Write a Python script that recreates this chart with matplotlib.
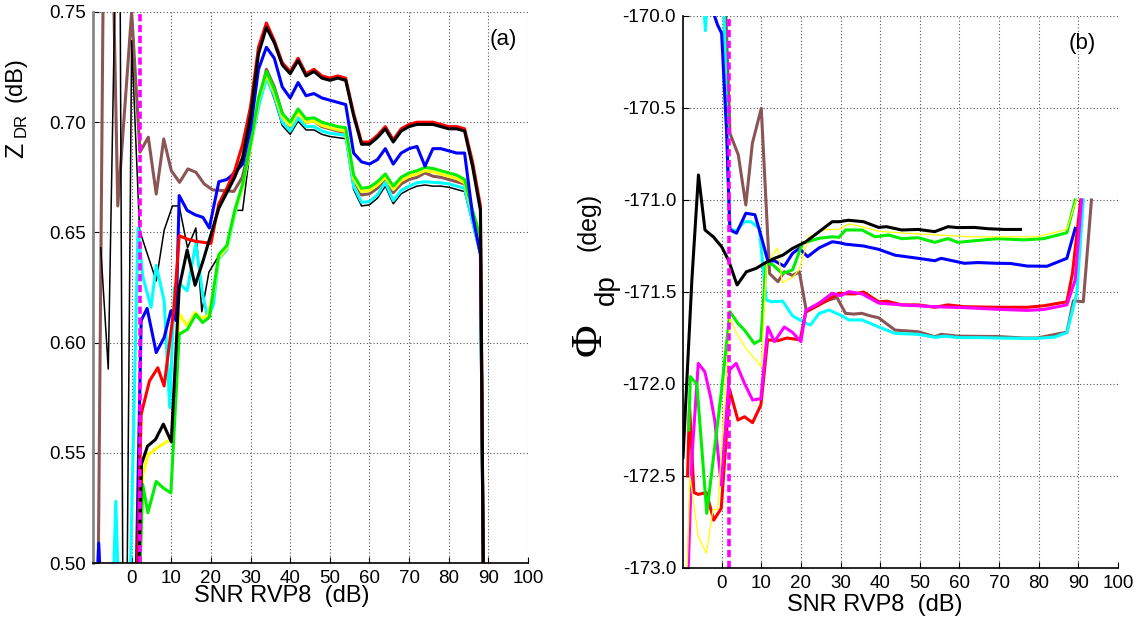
import matplotlib
matplotlib.use("Agg")
import matplotlib.pyplot as plt
from matplotlib.ticker import FormatStrFormatter

plt.rcParams['font.family'] = ['Liberation Sans', 'DejaVu Sans']
plt.rcParams['axes.unicode_minus'] = False

# ---------------- Panel (a): Z_DR vs SNR ----------------
a_black_x = [1.6, 2.5, 4, 6, 8, 10, 12, 14, 16, 18, 20, 22, 24, 26, 28, 30, 32, 34, 36, 38, 40, 42, 44, 46, 48, 50,
             52, 54, 56, 58, 60, 62, 64, 66, 68, 70, 72, 74, 76, 78, 80, 82, 84, 86, 88, 88.8]
a_black_y = [0.48, 0.545, 0.553, 0.556, 0.563, 0.555, 0.625, 0.642, 0.626, 0.637, 0.649, 0.661, 0.668, 0.675, 0.684,
             0.703, 0.731, 0.743, 0.736, 0.726, 0.722, 0.728, 0.721, 0.723, 0.720, 0.719, 0.720, 0.719, 0.703, 0.690,
             0.690, 0.693, 0.697, 0.691, 0.696, 0.698, 0.699, 0.699, 0.699, 0.698, 0.697, 0.697, 0.696, 0.680, 0.660, 0.48]

a_red_x = [1.2, 2.4, 4.5, 6.6, 8.2, 10.7, 12, 14, 16, 18, 20, 22, 24, 26, 28, 30, 32, 34, 36, 38, 40, 42, 44, 46, 48, 50,
           52, 54, 56, 58, 60, 62, 64, 66, 68, 70, 72, 74, 76, 78, 80, 82, 84, 86, 88, 88.8]
a_red_y = [0.48, 0.5675, 0.5826, 0.5886, 0.5803, 0.616, 0.6485, 0.647, 0.646, 0.6455, 0.645, 0.663, 0.670, 0.678, 0.690,
           0.707, 0.734, 0.745, 0.737, 0.727, 0.723, 0.729, 0.722, 0.724, 0.721, 0.720, 0.721, 0.720, 0.704, 0.691,
           0.691, 0.694, 0.698, 0.692, 0.697, 0.699, 0.700, 0.700, 0.700, 0.699, 0.698, 0.698, 0.697, 0.682, 0.662, 0.48]

a_blue_x = [-9, -8.3, -7.6, 1.0, 2.4, 3.9, 6.2, 8.2, 9.9, 11.2, 12, 14, 16, 18, 19.6, 22, 24, 26, 28, 30, 32, 34, 36, 38,
            40, 42, 44, 46, 48, 50, 52, 54, 56, 58, 60, 62, 64, 66, 68, 70, 72, 74, 76, 78, 80, 82, 84, 86, 88, 88.8]
a_blue_y = [0.48, 0.509, 0.48, 0.48, 0.610, 0.6155, 0.5955, 0.6023, 0.6144, 0.610, 0.6667, 0.660, 0.658, 0.6568, 0.652,
            0.673, 0.674, 0.677, 0.681, 0.697, 0.724, 0.734, 0.729, 0.716, 0.711, 0.718, 0.712, 0.713, 0.711, 0.710,
            0.709, 0.708, 0.686, 0.682, 0.681, 0.683, 0.688, 0.681, 0.686, 0.688, 0.689, 0.680, 0.688, 0.688, 0.687,
            0.686, 0.686, 0.658, 0.640, 0.48]

a_green_x = [1.8, 2.8, 4.1, 6.2, 8, 9.9, 12, 14.1, 16.2, 17.9, 19.6, 22, 24, 26, 28, 30, 32, 34, 36, 38, 40, 42, 44, 46,
             48, 50, 52, 54, 56, 58, 60, 62, 64, 66, 68, 70, 72, 74, 76, 78, 80, 82, 84, 86, 88, 88.8]
a_green_y = [0.48, 0.5356, 0.5228, 0.537, 0.534, 0.5318, 0.6038, 0.606, 0.6128, 0.6091, 0.6115, 0.640, 0.644, 0.660,
             0.672, 0.690, 0.711, 0.723, 0.715, 0.704, 0.700, 0.706, 0.7015, 0.702, 0.700, 0.699, 0.698, 0.6975, 0.676,
             0.670, 0.6705, 0.673, 0.6765, 0.671, 0.675, 0.677, 0.678, 0.6795, 0.679, 0.678, 0.677, 0.676, 0.674,
             0.660, 0.648, 0.48]

a_yellow_x = [1.7, 2.8, 4.1, 6.2, 9.1, 10.3, 12, 14, 16, 17.5, 19.2, 20.6, 22, 24, 26, 28, 30, 32, 34, 36, 38, 40, 42,
              44, 46, 48, 50, 52, 54, 56, 58, 60, 62, 64, 66, 68, 70, 72, 74, 76, 78, 80, 82, 84, 86, 88, 88.8]
a_yellow_y = [0.48, 0.540, 0.549, 0.552, 0.5553, 0.557, 0.613, 0.6076, 0.6136, 0.611, 0.612, 0.622, 0.6385, 0.643,
              0.659, 0.671, 0.689, 0.710, 0.7215, 0.7135, 0.7025, 0.6985, 0.7045, 0.700, 0.7005, 0.6985, 0.6975, 0.6965,
              0.696, 0.6745, 0.6685, 0.669, 0.6715, 0.675, 0.6695, 0.6735, 0.6755, 0.6765, 0.678, 0.6775, 0.6765,
              0.6755, 0.6745, 0.6725, 0.659, 0.647, 0.48]

a_brown_x = [-8.5, -7.0, -5.0, -3.5, 0, 2.1, 4.2, 6.2, 8.1, 10, 12.1, 14.2, 16.2, 18.3, 20.4, 22.9, 25.8, 27.9, 30, 32, 34,
             36, 38, 40, 42, 44, 46, 48, 50, 52, 54, 56, 58, 60, 62, 64, 66, 68, 70, 72, 74, 76, 78, 80, 82, 84, 86,
             88, 88.8]
a_brown_y = [0.48, 0.80, 0.80, 0.662, 0.750, 0.6864, 0.6932, 0.6674, 0.6924, 0.678, 0.6727, 0.6788, 0.6773, 0.672,
             0.6693, 0.669, 0.6686, 0.675, 0.690, 0.7075, 0.724, 0.716, 0.704, 0.698, 0.705, 0.700, 0.7005, 0.698,
             0.697, 0.696, 0.6955, 0.674, 0.667, 0.6675, 0.670, 0.674, 0.668, 0.672, 0.674, 0.675, 0.677, 0.6755,
             0.675, 0.674, 0.673, 0.672, 0.658, 0.645, 0.48]

a_cyan_x = [-4.8, -4.0, -3.2, -0.5, 1.6, 2.8, 4.9, 6.2, 8.2, 9.6, 10.8, 12.5, 14, 16.2, 17.9, 19.2, 20.6, 22, 24, 26, 28,
            30, 32, 34, 36, 38, 40, 42, 44, 46, 48, 50, 52, 54, 56, 58, 60, 62, 64, 66, 68, 70, 72, 74, 76, 78, 80, 82,
            84, 86, 88, 88.8]
a_cyan_y = [0.48, 0.528, 0.48, 0.48, 0.652, 0.630, 0.616, 0.635, 0.619, 0.5705, 0.625, 0.626, 0.6235, 0.645, 0.622,
            0.611, 0.617, 0.638, 0.642, 0.658, 0.671, 0.689, 0.707, 0.7197, 0.712, 0.700, 0.696, 0.702, 0.698, 0.698,
            0.696, 0.695, 0.6945, 0.694, 0.671, 0.6636, 0.664, 0.667, 0.6727, 0.6644, 0.669, 0.671, 0.6725, 0.673,
            0.6727, 0.6725, 0.672, 0.671, 0.670, 0.655, 0.640, 0.48]

a_thin_x = [-7.8, -5.9, -3.8, -3.0, -2.2, -1.2, 0, 2, 4, 6.2, 8.2, 10.3, 12, 14.1, 16.2, 17.7, 19.5, 22, 24, 26, 28, 30,
            32, 34, 36, 38, 40, 42, 44, 46, 48, 50, 52, 54, 56, 58, 60, 62, 64, 66, 68, 70, 72, 74, 76, 78, 80, 82, 84,
            86, 88, 88.8]
a_thin_y = [0.643, 0.588, 0.80, 0.80, 0.48, 0.48, 0.737, 0.651, 0.640, 0.628, 0.651, 0.662, 0.662, 0.643, 0.652, 0.614,
            0.632, 0.6394, 0.643, 0.660, 0.660, 0.689, 0.709, 0.7205, 0.7105, 0.6985, 0.6945, 0.7005, 0.6965, 0.6965,
            0.6945, 0.6935, 0.693, 0.6925, 0.6695, 0.662, 0.6625, 0.6655, 0.671, 0.663, 0.6675, 0.6695, 0.671, 0.6715,
            0.671, 0.671, 0.6705, 0.6695, 0.6685, 0.654, 0.639, 0.48]

a_marker_snr = 2.1

# ---------------- Panel (b): PHI_dp vs SNR ----------------
b_black_x = [-9.75, -7.5, -5.85, -4.2, -2.1, 0, 1.7, 3.9, 6.25, 8.75, 10.8, 13.3, 15.4, 17.9, 21.25, 24.6, 27.9, 29.6,
             32, 35.8, 39.6, 41.6, 45.4, 49.6, 53.75, 57.1, 59.6, 63.75, 67.1, 71.25, 75.4]
b_black_y = [-172.4, -171.43, -170.864, -171.163, -171.2, -171.254, -171.326, -171.462, -171.39, -171.371, -171.344,
             -171.317, -171.3, -171.263, -171.227, -171.172, -171.118, -171.118, -171.11, -171.118, -171.149, -171.145,
             -171.163, -171.16, -171.172, -171.145, -171.15, -171.149, -171.156, -171.16, -171.16]

b_green_x = [-8.3, -7.9, -6.25, -3.75, 0, 2.1, 4.1, 5.75, 8.25, 9.9, 11.2, 12.8, 15.3, 17.9, 20.4, 24.6, 27.9, 29.6,
             31.25, 35.4, 38.75, 42.1, 45.4, 49.6, 53.75, 57.1, 59.6, 64.6, 69.6, 76.25, 81.25, 87.1, 89.2]
b_green_y = [-172.25, -171.96, -172.0, -172.703, -172.03, -171.607, -171.67, -171.707, -171.78, -171.76, -171.344,
             -171.35, -171.4, -171.38, -171.235, -171.208, -171.2, -171.203, -171.163, -171.163, -171.2, -171.19,
             -171.21, -171.205, -171.23, -171.21, -171.23, -171.22, -171.21, -171.217, -171.21, -171.178, -171.0]

b_yellow_x = [-8.75, -8, -5.9, -3.85, -2.2, -1, 2.1, 3.75, 6.25, 10, 11.3, 14.1, 15.3, 17.9, 19.5, 22, 26.25, 29.6, 32.1,
              35.4, 39.6, 46.25, 54.6, 62.9, 71.25, 79.6, 87.1, 89.4]
b_yellow_y = [-173.05, -172.5, -172.83, -172.92, -172.685, -172.68, -171.643, -171.724, -171.81, -171.906, -171.35,
              -171.26, -171.45, -171.42, -171.38, -171.2, -171.16, -171.16, -171.13, -171.145, -171.17, -171.18,
              -171.19, -171.2, -171.2, -171.2, -171.16, -171.0]

b_blue_x = [-2.6, -1, 0, 1.25, 1.7, 2.1, 3.75, 6.1, 8.4, 10, 11.7, 13.3, 15.8, 17.9, 19.6, 21.7, 24.6, 27.9, 29.6, 31.25,
            35.8, 39.6, 43.75, 49.6, 53.75, 55.4, 61.25, 64.6, 69.6, 72.9, 77.1, 82.1, 87.1, 89.2]
b_blue_y = [-169.95, -170.05, -170.094, -170.63, -170.928, -171.163, -171.18, -171.072, -171.08, -171.2, -171.335,
            -171.33, -171.36, -171.29, -171.263, -171.308, -171.26, -171.227, -171.232, -171.24, -171.25, -171.268,
            -171.3, -171.317, -171.33, -171.317, -171.344, -171.34, -171.344, -171.345, -171.359, -171.36, -171.317,
            -171.154]

b_cyan_x = [-4.6, -4.1, -3.6, 0.5, 2, 3.65, 5.75, 7.4, 9.5, 11.25, 12.5, 15.4, 17.9, 21.25, 22.4, 24.6, 27.1, 30.4, 32.1,
            35.4, 39.6, 43.75, 49.6, 53.75, 56.25, 60, 65, 69.6, 76.25, 79.6, 84, 87.1, 89.6, 91.25]
b_cyan_y = [-169.9, -170.08, -169.9, -169.9, -171.154, -171.17, -171.118, -171.118, -171.154, -171.543, -171.553,
            -171.55, -171.63, -171.67, -171.68, -171.616, -171.598, -171.63, -171.652, -171.652, -171.69, -171.725,
            -171.73, -171.746, -171.74, -171.748, -171.748, -171.75, -171.752, -171.752, -171.745, -171.721, -171.507,
            -171.0]

b_brown_x = [0.9, 2.1, 4.2, 6.1, 7.75, 10, 12.1, 14.2, 15.8, 17.9, 19.6, 21.4, 23.7, 25.3, 27.1, 29.1, 31.25, 33.3, 35.4,
             37.5, 39.6, 43.75, 49.6, 53.75, 55.4, 59.6, 69.6, 76.25, 79.6, 87.1, 88.75, 91.25, 93.3]
b_brown_y = [-169.9, -170.638, -170.755, -171.027, -170.692, -170.502, -171.4, -171.444, -171.39, -171.41, -171.39,
             -171.607, -171.58, -171.56, -171.543, -171.53, -171.616, -171.62, -171.616, -171.63, -171.64, -171.707,
             -171.716, -171.743, -171.73, -171.74, -171.742, -171.75, -171.75, -171.718, -171.547, -171.553, -171.0]

b_red_x = [-8.6, -8.1, -7.0, -5.9, -3.85, -2, -0.1, 2, 4.1, 5.75, 7.8, 9.9, 11.6, 14.1, 16.5, 19.8, 21.25, 24.6, 29.6,
           31.7, 33.75, 35.8, 39.6, 41.7, 45.4, 49.6, 53.75, 57.1, 61.25, 69.6, 77.1, 81.25, 87.1, 88.5, 90.6]
b_red_y = [-172.5, -172.12, -172.59, -172.6, -172.59, -172.74, -172.676, -172.03, -172.196, -172.178, -172.21,
           -172.114, -171.76, -171.765, -171.75, -171.76, -171.607, -171.57, -171.507, -171.51, -171.51, -171.5,
           -171.553, -171.55, -171.57, -171.57, -171.583, -171.57, -171.58, -171.583, -171.583, -171.575, -171.553,
           -171.4, -171.0]

b_magenta_x = [-8.5, -7.5, -5.9, -4.25, -2.8, -1.75, -0.1, 2, 3.65, 5.75, 7.8, 9.9, 11.65, 13.3, 15.8, 17.9, 20, 21.25,
               24.6, 27.9, 30, 32.1, 35.4, 39.6, 45.4, 53.75, 61.25, 69.6, 77.1, 81.25, 87.1, 89.2, 90.8]
b_magenta_y = [-173.05, -172.4, -171.888, -171.933, -172.07, -172.196, -172.55, -171.924, -171.888, -171.996, -172.087,
               -172.08, -171.69, -171.77, -171.69, -171.72, -171.77, -171.6, -171.56, -171.507, -171.52, -171.498,
               -171.51, -171.56, -171.57, -171.58, -171.585, -171.594, -171.6, -171.595, -171.57, -171.435, -171.0]

b_marker_snr = 1.9

x_ticks = [0, 10, 20, 30, 40, 50, 60, 70, 80, 90, 100]
a_yticks = [0.50, 0.55, 0.60, 0.65, 0.70, 0.75]
b_yticks = [-173.0, -172.5, -172.0, -171.5, -171.0, -170.5, -170.0]

# colours
RED = '#ff0000'
BLK = '#000000'
BLU = '#0000ff'
GRN = '#00ee00'
YEL = '#ffff00'
CYN = '#00ffff'
BRN = '#8c5555'
MAG = '#ff00ff'

W, H = 1139, 634
fig = plt.figure(figsize=(W / 100, H / 100), dpi=100)
axA = fig.add_axes([93 / W, 1 - 563 / H, 435 / W, 551 / H])
axB = fig.add_axes([683 / W, 1 - 568 / H, 435 / W, 552 / H])

lw = 2.2
# panel a
axA.plot(a_brown_x, a_brown_y, color=BRN, lw=lw)
axA.plot(a_thin_x, a_thin_y, color=BLK, lw=1.1)
axA.plot(a_cyan_x, a_cyan_y, color=CYN, lw=lw)
axA.plot(a_yellow_x, a_yellow_y, color=YEL, lw=lw)
axA.plot(a_green_x, a_green_y, color=GRN, lw=lw)
axA.plot(a_blue_x, a_blue_y, color=BLU, lw=lw)
axA.plot(a_red_x, a_red_y, color=RED, lw=lw)
axA.plot(a_black_x, a_black_y, color=BLK, lw=lw)
axA.axvline(a_marker_snr, color=MAG, lw=2.6, ls=(0, (2.0, 1.0)))

# panel b
axB.plot(b_brown_x, b_brown_y, color=BRN, lw=lw)
axB.plot(b_cyan_x, b_cyan_y, color=CYN, lw=lw)
axB.plot(b_red_x, b_red_y, color=RED, lw=lw)
axB.plot(b_magenta_x, b_magenta_y, color=MAG, lw=lw)
axB.plot(b_blue_x, b_blue_y, color=BLU, lw=lw)
axB.plot(b_green_x, b_green_y, color=GRN, lw=lw)
axB.plot(b_yellow_x, b_yellow_y, color=YEL, lw=0.9)
axB.plot(b_black_x, b_black_y, color=BLK, lw=lw)
axB.axvline(b_marker_snr, color=MAG, lw=2.6, ls=(0, (2.0, 1.0)))

for ax, yt, fmt, ylim in [(axA, a_yticks, '%.2f', (0.50, 0.75)), (axB, b_yticks, '%.1f', (-173.0, -170.0))]:
    ax.set_xlim(-9.75, 100)
    ax.set_ylim(*ylim)
    ax.set_xticks(x_ticks)
    ax.set_yticks(yt)
    ax.yaxis.set_major_formatter(FormatStrFormatter(fmt))
    ax.grid(True, color='#555555', ls=(0, (1, 2)), lw=0.8)
    ax.set_axisbelow(True)
    ax.tick_params(direction='in', length=4, labelsize=13.5, pad=5)
    ax.spines['top'].set_visible(False)
    ax.spines['right'].set_visible(False)
    ax.spines['bottom'].set_linewidth(1.2)
    ax.spines['left'].set_linewidth(1.2)

axA.spines['left'].set_color('#888888')
axA.spines['left'].set_linewidth(2.0)

axA.text(0.943, 0.95, '(a)', transform=axA.transAxes, fontsize=16, ha='center', va='center')
axB.text(0.917, 0.95, '(b)', transform=axB.transAxes, fontsize=16, ha='center', va='center')

# x labels
fig.text(282 / W, 1 - 596 / H, 'SNR RVP8  (dB)', fontsize=17, ha='center', va='center')
fig.text(875 / W, 1 - 605 / H, 'SNR RVP8  (dB)', fontsize=17, ha='center', va='center')

# y label (a): Z_DR (dB)
fig.text(16 / W, 1 - 150 / H, 'Z', fontsize=18, rotation=90, ha='center', va='center')
fig.text(21 / W, 1 - 125 / H, 'DR', fontsize=12, rotation=90, ha='center', va='center')
fig.text(16 / W, 1 - 80 / H, '(dB)', fontsize=17, rotation=90, ha='center', va='center')

# y label (b): Phi_dp (deg)
fig.text(590 / W, 1 - 340 / H, '\u03a6', fontsize=32, rotation=90, ha='center', va='center',
         family=['Liberation Serif', 'DejaVu Serif'])
fig.text(607 / W, 1 - 290 / H, 'dp', fontsize=20, rotation=90, ha='center', va='center')
fig.text(589 / W, 1 - 222 / H, '(deg)', fontsize=18, rotation=90, ha='center', va='center')

fig.savefig('out.png', dpi=100)
